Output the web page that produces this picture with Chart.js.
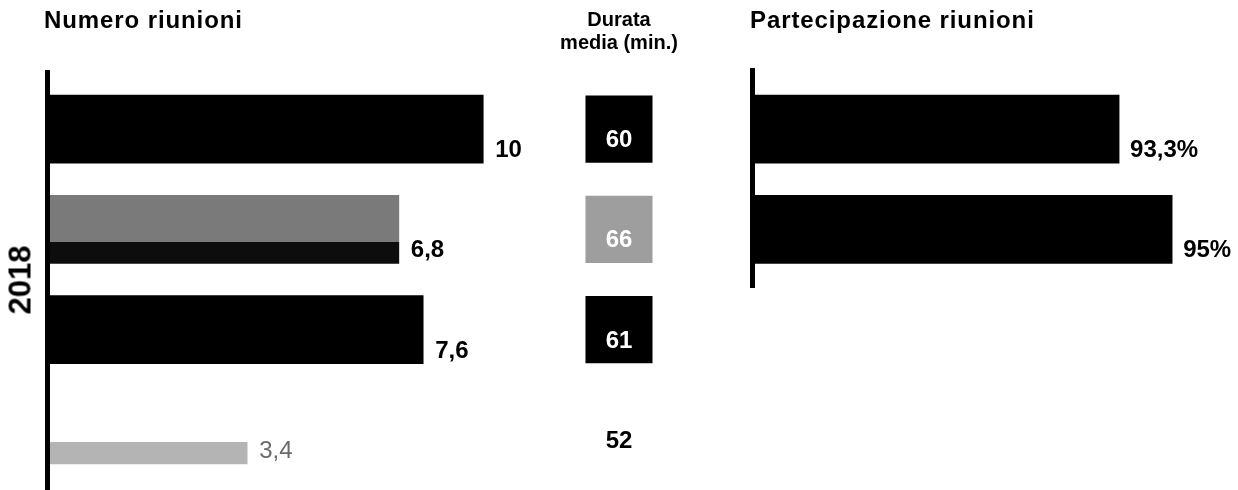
<!DOCTYPE html>
<html>
<head>
<meta charset="utf-8">
<script src="https://cdn.jsdelivr.net/npm/chart.js@4.4.1/dist/chart.umd.min.js"></script>
<style>
  html, body { margin: 0; padding: 0; background: #fff; }
  body { width: 1238px; height: 490px; position: relative; overflow: hidden;
         font-family: "Liberation Sans", Arial, Helvetica, sans-serif; }
  canvas { position: absolute; top: 0; }
  .t { position: absolute; font-weight: bold; color: #000; white-space: nowrap; }
</style>
</head>
<body>
<canvas id="cNum" width="560" height="490" style="left:0px"></canvas>
<canvas id="cDur" width="120" height="490" style="left:559px"></canvas>
<canvas id="cPart" width="538" height="490" style="left:700px"></canvas>

<div class="t" id="tNum" style="left:44px;top:8px;font-size:24px;line-height:24px;letter-spacing:0.9px"></div>
<div class="t" id="tDur" style="left:519px;width:200px;text-align:center;top:8px;font-size:20px;line-height:23px"></div>
<div class="t" id="tPart" style="left:750px;top:8px;font-size:24px;line-height:24px;letter-spacing:0.9px"></div>
<div class="t" id="tYear" style="left:20px;top:280px;font-size:31px;line-height:31px;transform:translate(-50%,-50%) rotate(-90deg)"></div>

<script>
// ---------------- data ----------------
const titleNumero = 'Numero riunioni';
const titleDurata = ['Durata', 'media (min.)'];
const titlePartecipazione = 'Partecipazione riunioni';
const yearLabel = '2018';

const rows = ['Riga 1', 'Riga 2', 'Riga 3', 'Riga 4'];
const numeroRiunioni = [10, 6.8, 7.6, 3.4];
const durataMedia = [60, 66, 61, 52];
const partecipazioneRows = ['Riga 1', 'Riga 2'];
const partecipazione = [93.3, 95];

// ---------------- text ----------------
document.getElementById('tNum').textContent = titleNumero;
document.getElementById('tDur').innerHTML = titleDurata.join('<br>');
document.getElementById('tPart').textContent = titlePartecipazione;
document.getElementById('tYear').textContent = yearLabel;

const fmt = v => String(v).replace('.', ',');
const FONT = '"Liberation Sans", Arial, Helvetica, sans-serif';

// ---------------- plugins ----------------
const axisLinePlugin = {
  id: 'axisLine',
  beforeDatasetsDraw(chart, args, opts) {
    const { ctx, chartArea } = chart;
    ctx.save();
    ctx.fillStyle = '#000';
    ctx.fillRect(chartArea.left - opts.width, chartArea.top - opts.extendTop, opts.width,
                 chartArea.bottom - chartArea.top + opts.extendTop + opts.extendBottom);
    ctx.restore();
  }
};

const barLabelPlugin = {
  id: 'barLabels',
  afterDatasetsDraw(chart, args, opts) {
    const ctx = chart.ctx;
    const meta = chart.getDatasetMeta(0);
    const values = chart.data.datasets[0].data;
    meta.data.forEach((bar, i) => {
      const st = opts.styles[i] || opts.styles[0];
      ctx.save();
      ctx.font = st.font;
      ctx.fillStyle = st.color;
      ctx.textAlign = 'left';
      ctx.textBaseline = 'alphabetic';
      ctx.fillText(fmt(values[i]) + (opts.suffix || ''), bar.x + opts.gap, bar.y + bar.height / 2 - opts.lift);
      ctx.restore();
    });
  }
};

const boxLabelPlugin = {
  id: 'boxLabels',
  afterDatasetsDraw(chart, args, opts) {
    const ctx = chart.ctx;
    const meta = chart.getDatasetMeta(0);
    meta.data.forEach((pt, i) => {
      ctx.save();
      ctx.font = 'bold 24px ' + FONT;
      ctx.fillStyle = opts.colors[i];
      ctx.textAlign = 'center';
      ctx.textBaseline = 'alphabetic';
      ctx.fillText(String(durataMedia[i]), pt.x, pt.y + opts.drop);
      ctx.restore();
    });
  }
};

// fill with a hard colour band (mimics the scanned shading of the lighter bars)
function bandFill(ctx, thickness, top, split, bottom) {
  const chart = ctx.chart;
  const ys = chart.scales && chart.scales.y;
  if (!ys || ys.top === undefined) return top;
  const c = ys.getPixelForValue(ctx.dataIndex);
  if (!isFinite(c)) return top;
  const g = chart.ctx.createLinearGradient(0, c - thickness / 2, 0, c + thickness / 2);
  g.addColorStop(0, top); g.addColorStop(split, top);
  g.addColorStop(split, bottom); g.addColorStop(1, bottom);
  return g;
}

const BAR_T = 68;
const numeroFill = [
  () => '#000',
  (ctx) => bandFill(ctx, BAR_T, '#7a7a7a', 0.69, '#0d0d0d'),
  () => '#000',
  (ctx) => bandFill(ctx, BAR_T, '#ffffff', 0.68, '#b4b4b4')
];

// ---------------- left: Numero riunioni ----------------
new Chart(document.getElementById('cNum'), {
  type: 'bar',
  data: {
    labels: rows,
    datasets: [{
      data: numeroRiunioni,
      backgroundColor: (ctx) => numeroFill[ctx.dataIndex](ctx),
      borderWidth: 0,
      barThickness: BAR_T
    }]
  },
  options: {
    indexAxis: 'y',
    responsive: false,
    animation: false,
    events: [],
    layout: { autoPadding: false, padding: { left: 50, right: 20, top: 79, bottom: 10 } },
    scales: {
      x: { type: 'logarithmic', min: 1.381, max: 12.96, bounds: 'data', display: false },
      y: { type: 'category', offset: true, display: false }
    },
    plugins: {
      legend: { display: false },
      tooltip: { enabled: false },
      axisLine: { width: 5, extendTop: 9, extendBottom: 10 },
      barLabels: {
        gap: 12, lift: 6,
        styles: [
          { font: 'bold 24px ' + FONT, color: '#000' },
          { font: 'bold 24px ' + FONT, color: '#000' },
          { font: 'bold 24px ' + FONT, color: '#000' },
          { font: '24px ' + FONT, color: '#6a6a6a' }
        ]
      }
    }
  },
  plugins: [axisLinePlugin, barLabelPlugin]
});

// ---------------- middle: Durata media ----------------
new Chart(document.getElementById('cDur'), {
  type: 'scatter',
  data: {
    labels: rows,
    datasets: [{
      data: durataMedia.map((d, i) => ({ x: 0, y: rows[i] })),
      pointStyle: 'rect',
      pointRadius: 47.4,
      pointHoverRadius: 47.4,
      pointBorderWidth: 0,
      pointBackgroundColor: ['#000', '#9e9e9e', '#000', 'rgba(255,255,255,0)'],
      pointBorderColor: 'rgba(0,0,0,0)',
      clip: false
    }]
  },
  options: {
    responsive: false,
    animation: false,
    events: [],
    layout: { autoPadding: false, padding: { left: 0, right: 0, top: 79, bottom: 10 } },
    scales: {
      x: { type: 'linear', min: -1, max: 1, display: false },
      y: { type: 'category', labels: rows, offset: true, display: false }
    },
    plugins: {
      legend: { display: false },
      tooltip: { enabled: false },
      boxLabels: { drop: 18, colors: ['#fff', '#fff', '#fff', '#000'] }
    }
  },
  plugins: [boxLabelPlugin]
});

// ---------------- right: Partecipazione riunioni ----------------
new Chart(document.getElementById('cPart'), {
  type: 'bar',
  data: {
    labels: partecipazioneRows,
    datasets: [{
      data: partecipazione,
      backgroundColor: '#000',
      borderWidth: 0,
      barThickness: BAR_T
    }]
  },
  options: {
    indexAxis: 'y',
    responsive: false,
    animation: false,
    events: [],
    layout: { autoPadding: false, padding: { left: 55, right: 10, top: 79, bottom: 210.5 } },
    scales: {
      x: { type: 'linear', min: 81.63, max: 96.79, bounds: 'data', display: false },
      y: { type: 'category', offset: true, display: false }
    },
    plugins: {
      legend: { display: false },
      tooltip: { enabled: false },
      axisLine: { width: 5, extendTop: 11, extendBottom: 8.5 },
      barLabels: {
        gap: 11, lift: 6, suffix: '%',
        styles: [{ font: 'bold 24px ' + FONT, color: '#000' }]
      }
    }
  },
  plugins: [axisLinePlugin, barLabelPlugin]
});
</script>
</body>
</html>
